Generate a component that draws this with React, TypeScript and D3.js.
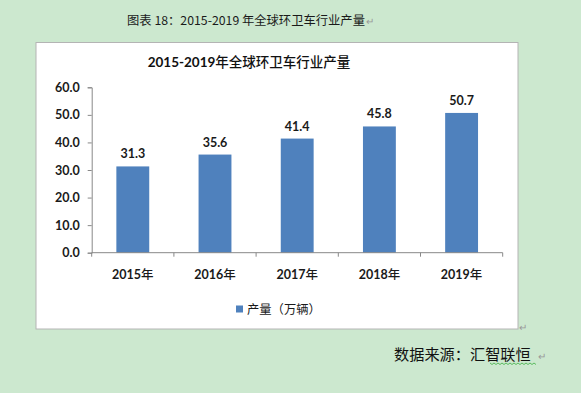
import React, { useEffect, useRef } from "react";
import * as d3 from "d3";

const years: string[] = ["2015", "2016", "2017", "2018", "2019"];
const output: number[] = [31.3, 35.6, 41.4, 45.8, 50.7];
const yTicks: number[] = [0, 10, 20, 30, 40, 50, 60];

const caption = "图表 18：2015-2019 年全球环卫车行业产量";
const titleNum = "2015-2019";
const titleCjk = "年全球环卫车行业产量";
const yearSuffix = "年";
const seriesName = "产量（万辆）";
const sourceText = "数据来源：汇智联恒";

const numFont = "Lato, 'Noto Sans CJK SC', sans-serif";
const cjkFont = "'Noto Sans CJK SC', sans-serif";

const App: React.FC = () => {
  const svgRef = useRef<SVGSVGElement | null>(null);

  useEffect(() => {
    if (!svgRef.current) return;
    const width = 581;
    const height = 393;

    d3.select(svgRef.current).selectAll("*").remove();
    const svg = d3.select(svgRef.current).attr("width", width).attr("height", height);

    // page background
    svg.append("rect").attr("width", width).attr("height", height).attr("fill", "#cce8cf");

    // caption above the chart
    svg.append("text")
      .attr("x", 246)
      .attr("y", 25)
      .attr("text-anchor", "middle")
      .attr("font-family", cjkFont)
      .attr("font-size", 12.3)
      .attr("fill", "#1a1a1a")
      .text(caption);
    svg.append("text")
      .attr("x", 366)
      .attr("y", 25)
      .attr("font-size", 10)
      .attr("fill", "#999")
      .text("↵");

    // chart box
    svg.append("rect")
      .attr("x", 36)
      .attr("y", 42.5)
      .attr("width", 482)
      .attr("height", 286.5)
      .attr("fill", "#fff")
      .attr("stroke", "#b4b4b4")
      .attr("stroke-width", 1);
    svg.append("text")
      .attr("x", 519)
      .attr("y", 331)
      .attr("font-size", 10)
      .attr("fill", "#999")
      .text("↵");

    const title = svg.append("text")
      .attr("x", 249)
      .attr("y", 67)
      .attr("text-anchor", "middle")
      .attr("font-size", 13.5)
      .attr("fill", "#111");
    title.append("tspan").attr("font-family", numFont).attr("font-weight", "bold").text(titleNum);
    title.append("tspan").attr("font-family", cjkFont).attr("font-weight", 500).text(titleCjk);

    const x0 = 91.7;
    const x1 = 502.7;
    const yTop = 87.3;
    const yBase = 252.7;

    const xScale = d3.scaleBand().domain(years).range([x0, x1]).paddingInner(0.6).paddingOuter(0.3);
    const yScale = d3.scaleLinear().domain([0, 60]).range([yBase, yTop]);

    // bars
    svg.selectAll("rect.bar")
      .data(output)
      .enter()
      .append("rect")
      .attr("class", "bar")
      .attr("x", (_d, i) => xScale(years[i])!)
      .attr("y", d => yScale(d))
      .attr("width", xScale.bandwidth())
      .attr("height", d => yBase - yScale(d))
      .attr("fill", "#4f81bd");

    // value labels
    svg.selectAll("text.val")
      .data(output)
      .enter()
      .append("text")
      .attr("class", "val")
      .attr("x", (_d, i) => xScale(years[i])! + xScale.bandwidth() / 2)
      .attr("y", d => yScale(d) - 8)
      .attr("text-anchor", "middle")
      .attr("font-family", numFont)
      .attr("font-weight", "bold")
      .attr("font-size", 12.5)
      .attr("fill", "#1a1a1a")
      .text(d => d.toFixed(1));

    // y axis
    const yAxis = svg.append("g")
      .attr("transform", `translate(${x0},0)`)
      .call(d3.axisLeft(yScale).tickValues(yTicks).tickSize(4).tickPadding(8).tickFormat(d => (d as number).toFixed(1)));
    yAxis.select(".domain").attr("stroke", "#888");
    yAxis.selectAll(".tick line").attr("stroke", "#888");
    yAxis.selectAll("text")
      .attr("font-family", numFont)
      .attr("font-weight", "bold")
      .attr("font-size", 12.5)
      .attr("fill", "#1a1a1a");

    // x axis: ticks at band boundaries
    const step = (x1 - x0) / years.length;
    const xAxis = svg.append("g");
    xAxis.append("line")
      .attr("x1", x0).attr("x2", x1)
      .attr("y1", yBase).attr("y2", yBase)
      .attr("stroke", "#888");
    xAxis.selectAll("line.tk")
      .data(d3.range(years.length + 1))
      .enter()
      .append("line")
      .attr("class", "tk")
      .attr("x1", i => x0 + i * step).attr("x2", i => x0 + i * step)
      .attr("y1", yBase).attr("y2", yBase + 4)
      .attr("stroke", "#888");
    const xl = xAxis.selectAll("text")
      .data(years)
      .enter()
      .append("text")
      .attr("x", d => xScale(d)! + xScale.bandwidth() / 2)
      .attr("y", 278.5)
      .attr("text-anchor", "middle")
      .attr("font-size", 12.5)
      .attr("fill", "#1a1a1a");
    xl.append("tspan").attr("font-family", numFont).attr("font-weight", "bold").text(d => d);
    xl.append("tspan").attr("font-family", cjkFont).attr("font-weight", 500).text(yearSuffix);

    // legend
    svg.append("rect")
      .attr("x", 236).attr("y", 305.5)
      .attr("width", 7).attr("height", 7)
      .attr("fill", "#4f81bd");
    svg.append("text")
      .attr("x", 247).attr("y", 313.5)
      .attr("font-family", cjkFont)
      .attr("font-size", 12.3)
      .attr("fill", "#1a1a1a")
      .text(seriesName);

    // source note
    svg.append("text")
      .attr("x", 394).attr("y", 359.5)
      .attr("font-family", cjkFont)
      .attr("font-size", 15.2)
      .attr("fill", "#111")
      .text(sourceText);
    const wave = d3.range(0, 48, 2).map(i => [490 + i, 363 + (i % 4 === 0 ? 0 : 1.5)] as [number, number]);
    svg.append("path")
      .attr("d", d3.line()(wave))
      .attr("fill", "none")
      .attr("stroke", "#3cb043")
      .attr("stroke-width", 0.8);
    svg.append("text")
      .attr("x", 538).attr("y", 360)
      .attr("font-size", 10)
      .attr("fill", "#999")
      .text("↵");
  }, []);

  return (
    <div style={{ position: "fixed", left: 0, top: 0 }}>
      <svg ref={svgRef}></svg>
    </div>
  );
};

export default App;
